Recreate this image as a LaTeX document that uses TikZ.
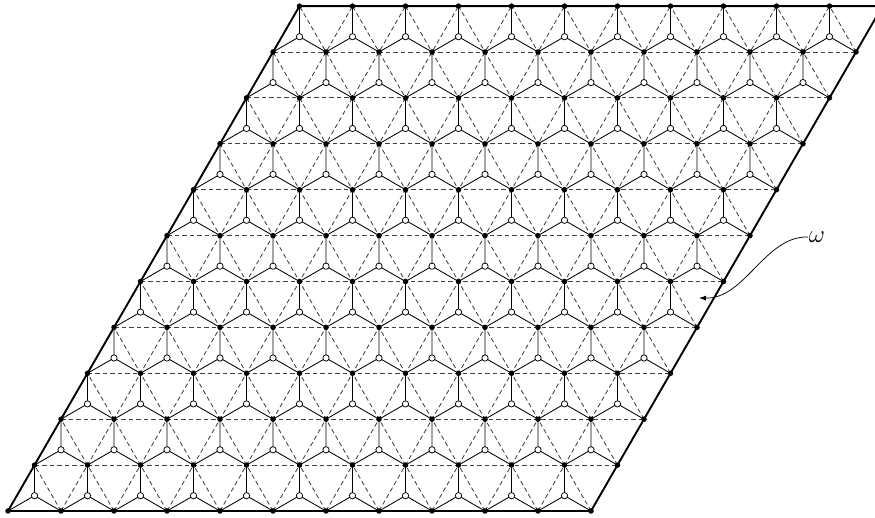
\documentclass[tikz,border=0pt]{standalone}
\usetikzlibrary{arrows.meta}
\begin{document}
\begin{tikzpicture}[x=1pt,y=1pt,
  latt/.style={draw=black!75, line width=0.85pt, dash pattern=on 4.5pt off 3pt},
  honey/.style={draw=black, line width=0.85pt},
  border/.style={draw=black, line width=1.9pt, line join=miter},
  bdot/.style={circle, fill=black, inner sep=0pt, minimum size=5.5pt},
  wdot/.style={circle, draw=black, fill=white, line width=0.75pt, inner sep=0pt, minimum size=6.3pt},
  lbl/.style={inner sep=1pt, font=\fontsize{29}{31}\selectfont},
  pointer/.style={draw=black, line width=0.75pt, -{Latex[length=7pt,width=5pt]}}
]
\useasboundingbox (0,0) rectangle (875,518);
% lattice points and up-triangle centres
\foreach \i in {0,...,11}{\foreach \j in {0,...,11}{
  \coordinate (p-\i-\j) at ({8+53*\i+26.5*\j},{7+45.9*\j});
}}
\foreach \i in {0,...,10}{\foreach \j in {0,...,10}{
  \coordinate (h-\i-\j) at ({8+53*\i+26.5*\j+26.5},{7+45.9*\j+15.3});
}}
% dashed triangular lattice
\foreach \j in {1,...,10}{\draw[latt] (p-0-\j) -- (p-11-\j);}
\foreach \i in {1,...,10}{\draw[latt] (p-\i-0) -- (p-\i-11);}
\foreach \s in {1,...,21}{
  \pgfmathtruncatemacro{\ja}{max(0,\s-11)}
  \pgfmathtruncatemacro{\jb}{min(11,\s)}
  \pgfmathtruncatemacro{\ia}{\s-\ja}
  \pgfmathtruncatemacro{\ib}{\s-\jb}
  \draw[latt] (p-\ia-\ja) -- (p-\ib-\jb);
}
% honeycomb
\foreach \i in {0,...,10}{\foreach \j in {0,...,10}{
  \pgfmathtruncatemacro{\ip}{\i+1}
  \pgfmathtruncatemacro{\jp}{\j+1}
  \draw[honey] (p-\i-\j) -- (h-\i-\j) -- (p-\ip-\j) (h-\i-\j) -- (p-\i-\jp);
}}
% border
\draw[border] (p-0-0) -- (p-11-0) -- (p-11-11) -- (p-0-11) -- cycle;
% dots
\foreach \i in {0,...,11}{\foreach \j in {0,...,11}{
  \node[bdot] (b-\i-\j) at (p-\i-\j) {};
}}
\foreach \i in {0,...,10}{\foreach \j in {0,...,10}{
  \node[wdot] (w-\i-\j) at (h-\i-\j) {};
}}
% label
\node[lbl] (omega) at (817,281) {$\omega$};
\coordinate (face) at (699,220);
\draw[pointer] (omega.west) .. controls (765,282) and (745,219) .. (face);
\end{tikzpicture}
\end{document}
